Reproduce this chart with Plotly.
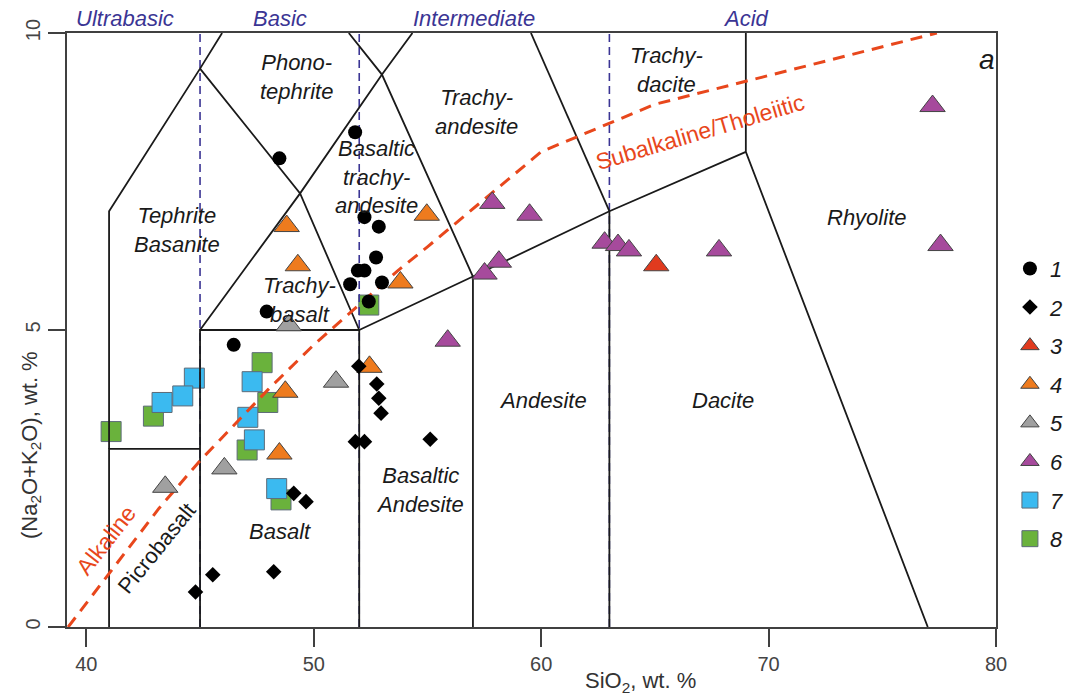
import plotly.graph_objects as go

# ---------------- data ----------------
s1_x = [51.82, 48.49, 52.23, 52.86, 52.74, 51.94, 52.23, 51.60, 53.00, 52.42, 47.93, 46.48]
s1_y = [8.33, 7.89, 6.90, 6.74, 6.22, 6.00, 6.00, 5.77, 5.80, 5.48, 5.31, 4.75]

s2_x = [51.98, 52.77, 52.86, 52.96, 51.83, 52.23, 55.12, 49.66, 49.12, 45.56, 44.80, 48.24]
s2_y = [4.39, 4.09, 3.85, 3.60, 3.12, 3.12, 3.16, 2.11, 2.25, 0.88, 0.59, 0.93]

s3_x = [65.06]
s3_y = [6.09]

s4_x = [48.81, 49.30, 54.97, 53.81, 52.45, 48.75, 48.49]
s4_y = [6.75, 6.09, 6.94, 5.80, 4.38, 3.96, 2.92]

s5_x = [48.90, 50.98, 46.07, 43.47]
s5_y = [5.08, 4.13, 2.67, 2.36]

s6_x = [57.85, 59.49, 62.79, 63.38, 63.86, 67.82, 58.14, 57.51, 55.89, 77.21, 77.56]
s6_y = [7.14, 6.94, 6.47, 6.43, 6.34, 6.34, 6.15, 5.95, 4.82, 8.77, 6.43]

s7_x = [44.75, 44.24, 43.33, 47.29, 47.10, 47.39, 48.37]
s7_y = [4.19, 3.89, 3.78, 4.13, 3.53, 3.15, 2.33]

s8_x = [47.73, 47.98, 42.95, 41.09, 47.07, 48.56, 52.42]
s8_y = [4.45, 3.78, 3.55, 3.29, 2.98, 2.14, 5.42]

series_names = ["1", "2", "3", "4", "5", "6", "7", "8"]

# TAS (Le Bas et al., 1986) field boundaries, clipped at 10 wt.%
tas_x = [41, 41, 45, None,
         41, 41, 45, 45.97, None,
         45, 45, 52, 52, None,
         45, 49.4, 53, 54.34, None,
         45, 49.4, 52, None,
         51.54, 53, 57, None,
         52, 57, 63, 69, None,
         57, 57, None,
         63, 63, None,
         59.55, 63, None,
         69, 69, 77]
tas_y = [0, 3, 3, None,
         3, 7, 9.4, 10, None,
         0, 5, 5, 0, None,
         5, 7.3, 9.3, 10, None,
         9.4, 7.3, 5, None,
         10, 9.3, 5.9, None,
         5, 5.9, 7, 8, None,
         0, 5.9, None,
         0, 7, None,
         10, 7, None,
         10, 8, 0]

# SiO2 class limits (ultrabasic / basic / intermediate / acid)
class_limits = [45, 52, 63]
class_names = ["Ultrabasic", "Basic", "Intermediate", "Acid"]
class_label_x = [41.7, 48.53, 57.03, 69.0]

# Irvine & Baragar (1971) alkaline / subalkaline divide
ib_x = [39.2, 40, 43.2, 45, 48, 50, 53.7, 55, 60, 65, 77.4]
ib_y = [0, 0.4, 2, 2.8, 4, 4.75, 6, 6.4, 8, 8.8, 10]

field_labels = ["Phono-<br>tephrite", "Tephrite<br>Basanite", "Basaltic<br>trachy-<br>andesite",
                "Trachy-<br>basalt", "Trachy-<br>andesite", "Trachy-<br>dacite", "Rhyolite",
                "Andesite", "Dacite", "Basaltic<br>Andesite", "Basalt"]
field_x = [49.24, 44.0, 52.76, 49.37, 57.16, 65.52, 74.32, 60.1, 68.0, 54.65, 48.53]
field_y = [9.26, 6.68, 7.58, 5.50, 8.67, 9.38, 6.90, 3.82, 3.82, 2.31, 1.60]

# ---------------- figure ----------------
FONT = "Liberation Sans, Arial, sans-serif"
INK = "#1a1a1a"
RED = "#e8471c"
NAVY = "#3b3594"

fig = go.Figure()

# squares first (drawn underneath)
fig.add_trace(go.Scatter(x=s8_x, y=s8_y, mode="markers", name="<i>8</i>", legendgroup="g8", legendrank=8,
                         marker=dict(symbol="square", size=20, color="#6ab23c",
                                     line=dict(color="#5d6b78", width=1))))
fig.add_trace(go.Scatter(x=s7_x, y=s7_y, mode="markers", name="<i>7</i>", legendgroup="g7", legendrank=7,
                         marker=dict(symbol="square", size=20, color="#3bbaf0",
                                     line=dict(color="#5d6b78", width=1))))

# class limits (dashed navy verticals)
for xv in class_limits:
    fig.add_trace(go.Scatter(x=[xv, xv], y=[0, 10], mode="lines", showlegend=False, hoverinfo="skip",
                             line=dict(color=NAVY, width=1.6, dash="8px,5px")))

# TAS boundaries
fig.add_trace(go.Scatter(x=tas_x, y=tas_y, mode="lines", showlegend=False, hoverinfo="skip",
                         line=dict(color=INK, width=1.8)))

# alkaline / subalkaline line
fig.add_trace(go.Scatter(x=ib_x, y=ib_y, mode="lines", showlegend=False, hoverinfo="skip",
                         line=dict(color=RED, width=3, dash="12px,8px")))

tri_line = dict(color="#444444", width=1)
TRI = 22
fig.add_trace(go.Scatter(x=s5_x, y=s5_y, mode="markers", name="<i>5</i>", legendgroup="g5", legendrank=5,
                         marker=dict(symbol="triangle-up", size=TRI, color="#a0a0a0", line=tri_line)))
fig.add_trace(go.Scatter(x=s6_x, y=s6_y, mode="markers", name="<i>6</i>", legendgroup="g6", legendrank=6,
                         marker=dict(symbol="triangle-up", size=TRI, color="#a64a9c", line=tri_line)))
fig.add_trace(go.Scatter(x=s4_x, y=s4_y, mode="markers", name="<i>4</i>", legendgroup="g4", legendrank=4,
                         marker=dict(symbol="triangle-up", size=TRI, color="#ee7b1e", line=tri_line)))
fig.add_trace(go.Scatter(x=s3_x, y=s3_y, mode="markers", name="<i>3</i>", legendgroup="g3", legendrank=3,
                         marker=dict(symbol="triangle-up", size=TRI, color="#e03a1e", line=tri_line)))
fig.add_trace(go.Scatter(x=s2_x, y=s2_y, mode="markers", name="<i>2</i>", legendgroup="g2", legendrank=2,
                         marker=dict(symbol="diamond", size=12, color="#000000")))
fig.add_trace(go.Scatter(x=s1_x, y=s1_y, mode="markers", name="<i>1</i>", legendgroup="g1", legendrank=1,
                         marker=dict(symbol="circle", size=14, color="#000000")))

annotations = []
for t, xv, yv in zip(field_labels, field_x, field_y):
    annotations.append(dict(x=xv, y=yv, xref="x", yref="y", text="<i>" + t + "</i>", showarrow=False,
                            font=dict(family=FONT, size=22, color=INK), align="center"))
annotations.append(dict(x=43.08, y=1.33, xref="x", yref="y", text="Picrobasalt", showarrow=False,
                        textangle=-51, font=dict(family=FONT, size=22, color=INK)))
annotations.append(dict(x=40.88, y=1.46, xref="x", yref="y", text="Alkaline", showarrow=False,
                        textangle=-52, font=dict(family=FONT, size=23, color=RED)))
annotations.append(dict(x=66.97, y=8.34, xref="x", yref="y", text="Subalkaline/Tholeiitic", showarrow=False,
                        textangle=-16.5, font=dict(family=FONT, size=23, color=RED)))
annotations.append(dict(x=79.6, y=9.55, xref="x", yref="y", text="<i>a</i>", showarrow=False,
                        font=dict(family=FONT, size=28, color=INK)))
for t, xv in zip(class_names, class_label_x):
    annotations.append(dict(x=xv, y=1.0236, xref="x", yref="paper", yanchor="middle", text="<i>" + t + "</i>",
                            showarrow=False, font=dict(family=FONT, size=22, color=NAVY)))
annotations.append(dict(x=0.617, y=-0.0926, xref="paper", yref="paper", yanchor="middle",
                        text="SiO<sub>2</sub>, wt. %", showarrow=False,
                        font=dict(family=FONT, size=22, color="#333333")))
annotations.append(dict(x=-0.039, y=0.306, xref="paper", yref="paper", xanchor="center", yanchor="middle",
                        text="(Na<sub>2</sub>O+K<sub>2</sub>O), wt. %", showarrow=False, textangle=-90,
                        font=dict(family=FONT, size=22, color="#333333")))

fig.update_layout(
    width=1073, height=697, autosize=False,
    margin=dict(l=67, r=77, t=33, b=70, autoexpand=False),
    paper_bgcolor="white", plot_bgcolor="white",
    font=dict(family=FONT, color="#333333"),
    annotations=annotations,
    showlegend=True,
    legend=dict(x=1.015, y=0.6386, xanchor="left", yanchor="top", tracegroupgap=7,
                font=dict(family=FONT, size=22, color=INK), bgcolor="rgba(0,0,0,0)", itemsizing="trace"),
)
fig.update_xaxes(range=[39.15, 80], tickvals=[40, 50, 60, 70, 80], ticks="outside", ticklen=18, tickwidth=1.5,
                 tickcolor="#404040", showline=True, linecolor="#404040", linewidth=1.5, mirror=True,
                 showgrid=False, zeroline=False, tickfont=dict(family=FONT, size=20, color="#444444"))
fig.update_yaxes(range=[0, 10], tickvals=[0, 5, 10], ticks="outside", ticklen=17, tickwidth=1.5,
                 tickcolor="#404040", showline=True, linecolor="#404040", linewidth=1.5, mirror=True,
                 showgrid=False, zeroline=False, tickangle=-90,
                 tickfont=dict(family=FONT, size=20, color="#444444"))

fig.write_html("out.html")
